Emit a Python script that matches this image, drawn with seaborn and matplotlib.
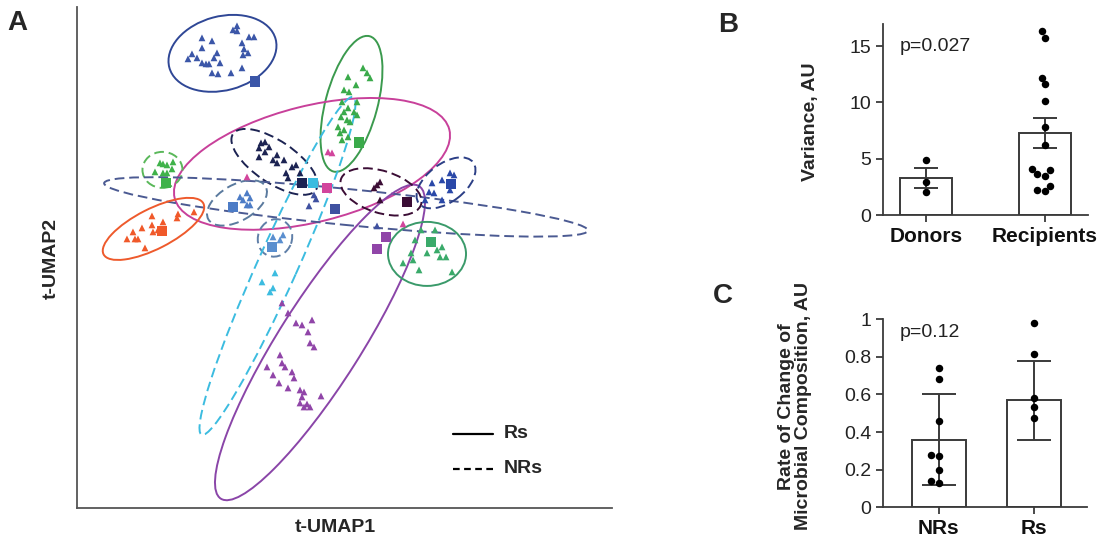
import matplotlib
matplotlib.use("Agg")
import matplotlib.pyplot as plt
from matplotlib.patches import Ellipse
import pandas as pd
import seaborn as sns

# ---- panel A: t-UMAP embedding (triangles = samples, squares = donors) ----
tri_p01 = [(160, 482), (156, 478), (160, 477), (125, 470), (135, 467), (172, 471),
           (177, 471), (165, 465), (125, 460), (167, 459), (171, 455), (140, 455),
           (115, 454), (111, 449), (120, 450), (137, 450), (125, 445), (129, 444),
           (132, 444), (143, 445), (166, 453), (165, 440), (135, 435), (141, 434),
           (154, 435)]
tri_p02 = [(286, 440), (290, 435), (293, 430), (271, 431), (279, 423), (267, 418),
           (272, 416), (280, 406), (265, 406), (271, 400), (267, 396), (277, 396),
           (280, 393), (264, 391), (270, 388), (273, 386), (261, 381), (267, 378),
           (263, 375), (271, 371), (265, 368)]
tri_p03 = [(251, 356), (255, 355), (170, 331), (326, 284)]
tri_p04 = [(184, 365), (182, 360), (192, 361), (188, 356), (200, 353), (182, 351),
           (196, 348), (207, 348), (200, 345), (215, 341), (223, 335), (209, 335),
           (219, 343), (211, 330), (188, 366)]
tri_p05 = [(83, 345), (86, 344), (90, 343), (96, 346), (78, 336), (86, 335),
           (90, 335), (95, 339)]
tri_p06 = [(232, 302), (239, 309), (237, 313), (300, 282)]
tri_p07 = [(101, 294), (117, 296), (100, 290), (86, 286), (75, 292), (65, 280),
           (75, 283), (56, 276), (50, 269), (58, 269), (61, 269), (68, 260),
           (76, 276), (81, 278)]
tri_p08 = [(163, 311), (170, 315), (173, 310), (170, 303), (166, 308), (173, 303)]
tri_p09 = [(196, 271), (203, 268), (206, 273)]
tri_p10 = [(198, 235), (185, 226), (193, 216), (196, 220)]
tri_p11 = [(205, 205), (211, 195), (219, 185), (225, 183), (235, 188), (231, 176),
           (233, 165), (237, 161), (203, 153), (205, 145), (208, 141), (190, 141),
           (196, 133), (215, 136), (217, 130), (202, 125), (211, 120), (223, 118),
           (227, 116), (244, 112), (225, 111), (223, 105), (233, 101), (227, 101),
           (230, 104)]
tri_p12 = [(300, 323), (303, 326), (297, 320), (303, 308)]
tri_p13 = [(355, 325), (365, 328), (373, 335), (377, 333), (352, 316), (357, 315),
           (365, 308), (373, 318), (348, 308)]
tri_p14 = [(358, 278), (344, 278), (338, 268), (350, 255), (326, 245), (336, 248),
           (342, 238), (360, 258), (363, 251), (369, 251), (365, 261), (375, 236),
           (334, 255)]

patients = ["P01", "P02", "P03", "P04", "P05", "P06", "P07",
            "P08", "P09", "P10", "P11", "P12", "P13", "P14"]
response = ["Rs", "Rs", "Rs", "NRs", "NRs", "NRs", "Rs",
            "NRs", "NRs", "NRs", "Rs", "NRs", "NRs", "Rs"]
donor_x = [178, 282, 250, 225, 89, 258, 85, 156, 195, 236, 309, 330, 374, 354]
donor_y = [426, 365, 320, 325, 325, 299, 277, 301, 261, 325, 271, 306, 324, 266]
extra_donor = ("P11", 300, 259)

ell_cx = [145.5, 274.5, 235, 197.5, 85.5, 269, 76.5, 160, 198, 200.5, 243, 304, 369, 350]
ell_cy = [454.5, 404, 344, 346, 338, 301, 279, 305, 270, 242, 165.5, 316, 325, 254]
ell_w = [110, 140, 283, 100, 40, 486, 112, 66, 38, 370, 370, 84, 68, 78]
ell_h = [74, 52, 116, 42, 36, 36, 40, 36, 34, 40, 82, 42, 38, 64]
ell_angle = [15, 75, 14, -34, 0, -5.6, 27, 30, 70, 65.8, 57.6, -17.5, 37, 0]

point_colors = ["#3b56a8", "#3aaa4a", "#d2459c", "#1c2352", "#3fb24a", "#3f51a0", "#f0592a",
                "#4d7cc6", "#5a8fcf", "#3cbce0", "#9045a8", "#3b0d35", "#2a48a8", "#3aaa6a"]
ring_colors = ["#2f4796", "#3b9a4e", "#c8409a", "#1c2352", "#5ab85a", "#4b5a92", "#ee5a2c",
               "#5a7a9e", "#5f7fa8", "#3cbce0", "#8a45a8", "#3b0d35", "#2c3f86", "#3a9a6a"]

# ---- panel B: variance ----
b_groups = ["Donors", "Recipients"]
b_donors = [4.9, 2.9, 2.0]
b_recipients = [15.7, 16.3, 12.2, 11.6, 10.1, 7.8, 6.2, 3.5, 4.1, 3.6, 4.0, 2.1, 2.6, 2.2]
b_mean = [3.27, 7.29]
b_err = [0.86, 1.34]

# ---- panel C: rate of change ----
c_groups = ["NRs", "Rs"]
c_nrs = [0.74, 0.68, 0.46, 0.28, 0.27, 0.20, 0.13, 0.14]
c_rs = [0.98, 0.815, 0.583, 0.535, 0.477]
c_mean = [0.36, 0.57]
c_err = [0.24, 0.21]

sns.set_theme(style="ticks")
plt.rcParams["font.family"] = ["Liberation Sans", "DejaVu Sans"]
BOLD = ["Liberation Sans Narrow", "Liberation Sans", "DejaVu Sans"]
INK = "#3a3a3a"

fig = plt.figure(figsize=(11.01, 5.55), dpi=100)

# panel A
tri_lists = [tri_p01, tri_p02, tri_p03, tri_p04, tri_p05, tri_p06, tri_p07,
             tri_p08, tri_p09, tri_p10, tri_p11, tri_p12, tri_p13, tri_p14]
rows = []
for pid, pts in zip(patients, tri_lists):
    for x, y in pts:
        rows.append({"patient": pid, "umap1": x, "umap2": y})
tri_df = pd.DataFrame(rows)
donor_df = pd.DataFrame({"patient": patients + [extra_donor[0]],
                         "umap1": donor_x + [extra_donor[1]],
                         "umap2": donor_y + [extra_donor[2]]})
pal = dict(zip(patients, point_colors))

axa = fig.add_axes([0.0699, 0.0847, 0.486, 0.903])
for i, pid in enumerate(patients):
    ls = "-" if response[i] == "Rs" else (0, (5, 2.5))
    axa.add_patch(Ellipse((ell_cx[i], ell_cy[i]), ell_w[i], ell_h[i], angle=ell_angle[i],
                          fill=False, edgecolor=ring_colors[i], lw=1.4, linestyle=ls, zorder=2))
sns.scatterplot(data=tri_df, x="umap1", y="umap2", hue="patient", palette=pal,
                marker="^", s=24, linewidth=0, legend=False, ax=axa, zorder=3)
sns.scatterplot(data=donor_df, x="umap1", y="umap2", hue="patient", palette=pal,
                marker="s", s=60, linewidth=0, legend=False, ax=axa, zorder=4)
axa.set_xlim(0, 535)
axa.set_ylim(0, 501)
axa.set_xticks([])
axa.set_yticks([])
axa.set_xlabel("")
axa.set_ylabel("")
for s in ["top", "right"]:
    axa.spines[s].set_visible(False)
for s in ["left", "bottom"]:
    axa.spines[s].set_color("#555555")
    axa.spines[s].set_linewidth(1.3)

axa.plot([0.703, 0.778], [0.148, 0.148], color="black", lw=1.6, transform=axa.transAxes)
axa.plot([0.703, 0.778], [0.078, 0.078], color="black", lw=1.6, linestyle=(0, (3, 2)),
         transform=axa.transAxes)
axa.text(0.798, 0.148, "Rs", transform=axa.transAxes, va="center", ha="left",
         fontsize=14, fontweight="bold", family=BOLD)
axa.text(0.798, 0.078, "NRs", transform=axa.transAxes, va="center", ha="left",
         fontsize=14, fontweight="bold", family=BOLD)

fig.text(0.305, 0.049, "t-UMAP1", ha="center", va="center", fontsize=14,
         fontweight="bold", family=BOLD)
fig.text(0.047, 0.535, "t-UMAP2", ha="center", va="center", rotation=90, fontsize=14,
         fontweight="bold", family=BOLD)


def bar_panel(ax, groups, values_by_group, means, errs, width, capsize):
    df = pd.DataFrame({"group": [g for g, v in zip(groups, values_by_group) for _ in v],
                       "value": [x for v in values_by_group for x in v]})
    sns.barplot(x=groups, y=means, color="white", edgecolor=INK, linewidth=1.4,
                width=width, errorbar=None, ax=ax, zorder=1)
    ax.errorbar(range(len(groups)), means, yerr=errs, fmt="none", ecolor=INK,
                elinewidth=1.4, capsize=capsize, capthick=1.4, zorder=2)
    sns.swarmplot(data=df, x="group", y="value", order=groups, color="black",
                  size=5.4, ax=ax, zorder=3)
    ax.set_xlabel("")
    ax.set_ylabel("")
    sns.despine(ax=ax)
    for s in ["left", "bottom"]:
        ax.spines[s].set_color(INK)
        ax.spines[s].set_linewidth(1.3)
    ax.tick_params(axis="both", colors=INK, width=1.3, length=5, labelsize=14)
    ax.tick_params(axis="y", labelcolor="#222222")
    for lab in ax.get_xticklabels():
        lab.set_fontweight("bold")
        lab.set_family(BOLD)
        lab.set_fontsize(15)
        lab.set_color("#111111")


# panel B
axb = fig.add_axes([0.802, 0.6126, 0.186, 0.345])
bar_panel(axb, b_groups, [b_donors, b_recipients], b_mean, b_err, 0.44, 8.6)
axb.set_xlim(-0.36, 1.36)
axb.set_ylim(0, 17)
axb.set_yticks([0, 5, 10, 15])
axb.text(-0.22, 15, "p=0.027", ha="left", va="center", fontsize=14, color="#222222")
fig.text(0.7357, 0.78, "Variance, AU", ha="center", va="center", rotation=90,
         fontsize=14, fontweight="bold", family=BOLD)

# panel C
axc = fig.add_axes([0.802, 0.086, 0.185, 0.339])
bar_panel(axc, c_groups, [c_nrs, c_rs], c_mean, c_err, 0.57, 12.5)
axc.set_xlim(-0.59, 1.56)
axc.set_ylim(0, 1.0)
axc.set_yticks([0, 0.2, 0.4, 0.6, 0.8, 1.0])
axc.set_yticklabels(["0", "0.2", "0.4", "0.6", "0.8", "1"])
axc.text(-0.41, 0.93, "p=0.12", ha="left", va="center", fontsize=14, color="#222222")
fig.text(0.722, 0.268, "Rate of Change of\nMicrobial Composition, AU", ha="center",
         va="center", rotation=90, fontsize=14, fontweight="bold", family=BOLD,
         linespacing=1.05)

# panel letters
fig.text(0.016, 0.958, "A", fontsize=20, fontweight="bold", family=BOLD, ha="center", va="center")
fig.text(0.661, 0.955, "B", fontsize=20, fontweight="bold", family=BOLD, ha="center", va="center")
fig.text(0.657, 0.467, "C", fontsize=20, fontweight="bold", family=BOLD, ha="center", va="center")

fig.savefig("out.png", dpi=100)
